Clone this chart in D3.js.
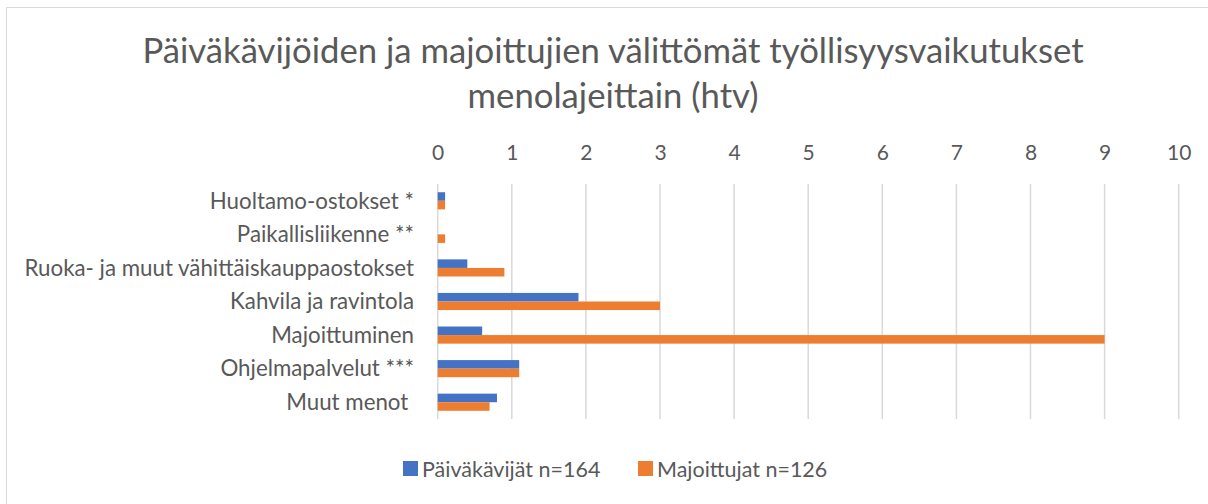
<!DOCTYPE html>
<html><head><meta charset="utf-8">
<script src="https://cdn.jsdelivr.net/npm/d3@7"></script>
<style>body{margin:0;background:#fff}svg{display:block}text{font-family:Lato,"Open Sans",sans-serif;fill:#595959}</style>
</head><body><svg id="c" width="1208" height="504"></svg>
<script>
const categories = ["Huoltamo-ostokset *","Paikallisliikenne **","Ruoka- ja muut vähittäiskauppaostokset","Kahvila ja ravintola","Majoittuminen","Ohjelmapalvelut ***","Muut menot "];
const paivakavijat = [0.1, 0, 0.4, 1.9, 0.6, 1.1, 0.8];
const majoittujat = [0.1, 0.1, 0.9, 3.0, 9.0, 1.1, 0.7];
const seriesNames = ["Päiväkävijät n=164","Majoittujat n=126"];
const tickValues = [0,1,2,3,4,5,6,7,8,9,10];
const titleLines = ["Päiväkävijöiden ja majoittujien välittömät työllisyysvaikutukset","menolajeittain (htv)"];
const colors = ["#4472C4","#ED7D31"];

const svg = d3.select("#c");
svg.append("rect").attr("x",6.5).attr("y",7.5).attr("width",1230).attr("height",520)
  .attr("fill","#fff").attr("stroke","#d9d9d9").attr("stroke-width",1);

const x = d3.scaleLinear().domain([0,10]).range([437.7,1178.7]);
const y = d3.scaleBand().domain(categories).range([184,419]).paddingInner(0.49).paddingOuter(0.245);
const sub = d3.scaleBand().domain([0,1]).range([0,y.bandwidth()]);

svg.selectAll("text.title").data(titleLines).join("text").attr("class","title")
  .attr("x",613).attr("y",(d,i)=>63+i*45).attr("text-anchor","middle")
  .style("font-size","34.7px").text(d=>d);

const axis = d3.axisTop(x).tickValues(tickValues).tickSize(0).tickPadding(0).tickFormat(d3.format("d"));
const ag = svg.append("g").attr("transform","translate(0,160)").call(axis);
ag.select(".domain").remove();
ag.selectAll("text").style("font-size","21px").attr("fill","#595959").style("font-family","Lato,'Open Sans',sans-serif");

svg.append("g").selectAll("line").data(tickValues).join("line")
  .attr("x1",d=>x(d)).attr("x2",d=>x(d)).attr("y1",184).attr("y2",419)
  .attr("stroke","#d9d9d9").attr("stroke-width",1.5);

const data = [paivakavijat, majoittujat];
data.forEach((vals,si)=>{
  svg.append("g").selectAll("rect").data(vals).join("rect")
    .attr("x",x(0)).attr("y",(d,i)=>y(categories[i])+sub(si))
    .attr("width",d=>x(d)-x(0)).attr("height",sub.bandwidth())
    .attr("fill",colors[si]);
});

svg.append("g").selectAll("text").data(categories).join("text")
  .attr("x",414).attr("y",d=>y(d)+y.bandwidth()/2).attr("dy","0.35em")
  .attr("text-anchor","end").style("font-size","22.3px").style("white-space","pre")
  .attr("xml:space","preserve").text(d=>d);

const legX = [403, 638];
seriesNames.forEach((n,i)=>{
  svg.append("rect").attr("x",legX[i]).attr("y",461).attr("width",15).attr("height",15).attr("fill",colors[i]);
  svg.append("text").attr("x",legX[i]+19).attr("y",477).style("font-size","21.5px").text(n);
});
</script></body></html>
